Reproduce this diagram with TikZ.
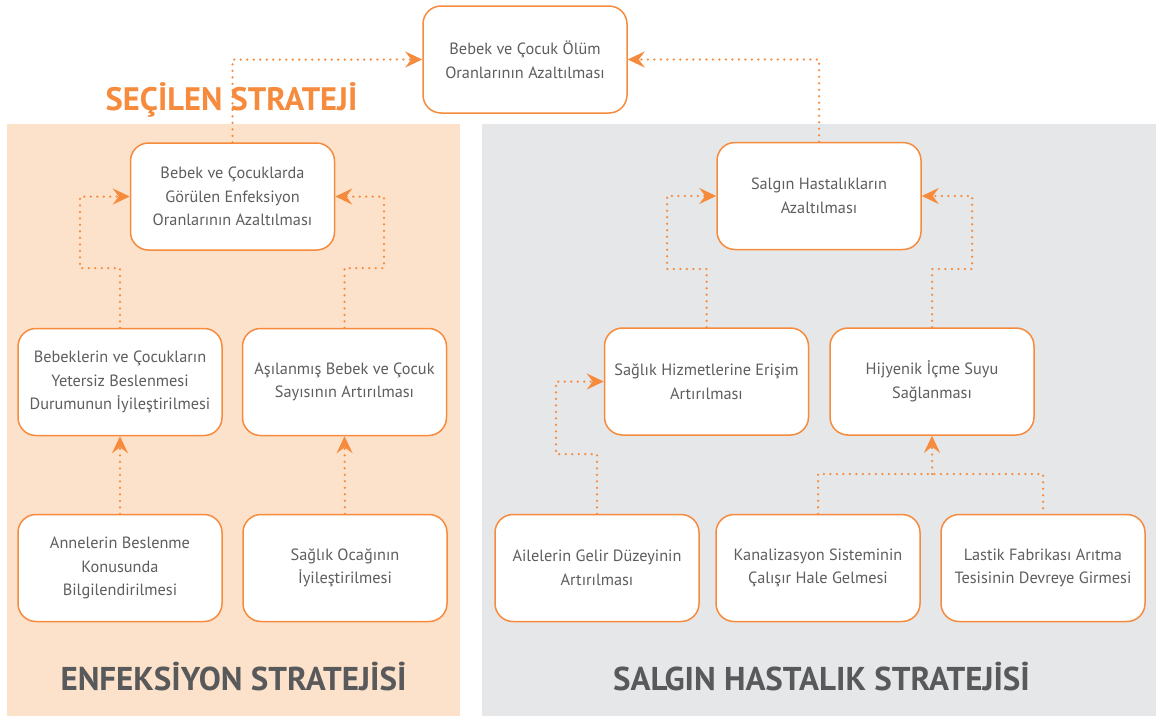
\documentclass[tikz,border=0pt]{standalone}
\usepackage{fontspec}
\setmainfont{PT Sans}
\usetikzlibrary{arrows.meta}
\definecolor{accent}{HTML}{F68B3D}
\definecolor{peach}{HTML}{FDE2CB}
\definecolor{panelgray}{HTML}{E6E7E8}
\definecolor{inktext}{HTML}{5E5E5E}
\definecolor{titlegray}{HTML}{58595B}
\begin{document}
\begin{tikzpicture}[x=1pt,y=-1pt,
  goal/.style={draw=accent, line width=1.5pt, fill=white, rounded corners=18pt,
    minimum width=204pt, minimum height=107pt, align=center, text=inktext,
    font=\fontsize{16.3}{23.5}\selectfont, inner sep=0pt},
  link/.style={draw=accent, line width=2.5pt, line cap=round, dash pattern=on 0pt off 6.5pt},
  tip/.style={link, -{Stealth[length=17pt,width=16pt,inset=6pt,fill=accent]}},
  headline/.style={font=\fontsize{32.5}{32.5}\bfseries\selectfont, inner sep=0pt},
  paneltitle/.style={font=\fontsize{33}{33}\bfseries\selectfont, text=titlegray, inner sep=0pt}]
  % canvas and the two strategy panels
  \useasboundingbox (0,0) rectangle (1158,716);
  \fill[white] (0,0) rectangle (1158,716);
  \fill[peach] (7,124) rectangle (460,716);
  \fill[panelgray] (482,124) rectangle (1156,716);

  % panel headings
  \node[headline, text=accent] (chosen) at (231.5,100) {SEÇİLEN STRATEJİ};
  \node[paneltitle] (enftitle) at (233.5,677) {ENFEKSİYON STRATEJİSİ};
  \node[paneltitle] (saltitle) at (821.5,677) {SALGIN HASTALIK STRATEJİSİ};

  % goal boxes
  \node[goal] (olum)   at (525,59.5)   {Bebek ve Çocuk Ölüm\\Oranlarının Azaltılması};
  \node[goal] (enf)    at (232.5,196.5) {Bebek ve Çocuklarda\\Görülen Enfeksiyon\\Oranlarının Azaltılması};
  \node[goal] (salgin) at (819,196)    {Salgın Hastalıkların\\Azaltılması};
  \node[goal] (bes)    at (120,382)    {Bebeklerin ve Çocukların\\Yetersiz Beslenmesi\\Durumunun İyileştirilmesi};
  \node[goal] (asi)    at (344.5,382)  {Aşılanmış Bebek ve Çocuk\\Sayısının Artırılması};
  \node[goal] (hiz)    at (706.5,381.5) {Sağlık Hizmetlerine Erişim\\Artırılması};
  \node[goal] (hij)    at (932,381.5)  {Hijyenik İçme Suyu\\Sağlanması};
  \node[goal] (anne)   at (120,568)    {Annelerin Beslenme\\Konusunda\\Bilgilendirilmesi};
  \node[goal] (ocak)   at (345,568)    {Sağlık Ocağının\\İyileştirilmesi};
  \node[goal] (aile)   at (597,568)    {Ailelerin Gelir Düzeyinin\\Artırılması};
  \node[goal] (kanal)  at (818,568)    {Kanalizasyon Sisteminin\\Çalışır Hale Gelmesi};
  \node[goal] (lastik) at (1043,568)   {Lastik Fabrikası Arıtma\\Tesisinin Devreye Girmesi};

  % dotted links
  \draw[tip] (enf.north) |- (olum.west);
  \draw[tip] (salgin.north) |- (olum.east);
  \draw[tip] (bes.north) |- (80,268) |- (enf.west);
  \draw[tip] (asi.north) |- (384,268) |- (enf.east);
  \draw[tip] (hiz.north) |- (667,269) |- (salgin.west);
  \draw[tip] (hij.north) |- (972,269) |- (salgin.east);
  \draw[tip] (aile.north) |- (556,454) |- (hiz.west);
  \draw[tip] (anne.north) -- (bes.south);
  \draw[tip] (ocak.north) -- (asi.south);
  \coordinate (water) at (932,474);
  \draw[link] (kanal.north) |- (water) -| (lastik.north);
  \draw[tip] (water) -- (hij.south);
\end{tikzpicture}
\end{document}
